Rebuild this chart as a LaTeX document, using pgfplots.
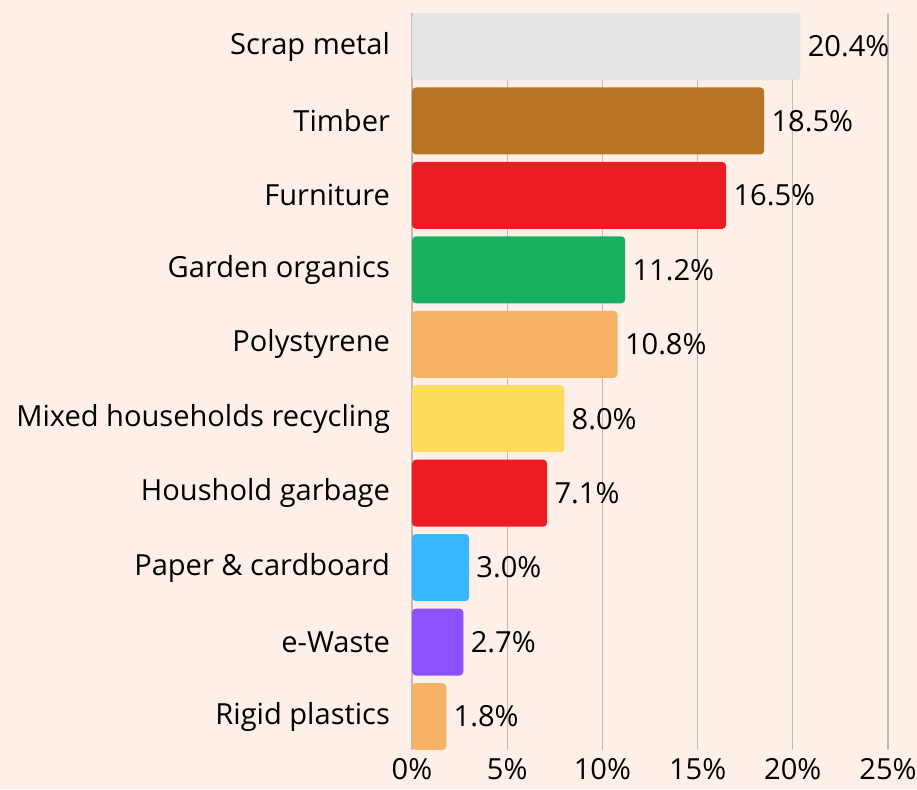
\documentclass[border=0pt]{standalone}
\usepackage{pgfplots}
\pgfplotsset{compat=1.18}
\usepackage{fontspec}
\setmainfont{Open Sans}
\definecolor{bg}{HTML}{FEEFE8}
\definecolor{gridc}{HTML}{C4BAB5}
\definecolor{c1}{HTML}{E6E6E6}
\definecolor{c2}{HTML}{B87422}
\definecolor{c3}{HTML}{EB1C24}
\definecolor{c4}{HTML}{18AF5F}
\definecolor{c5}{HTML}{F6B366}
\definecolor{c6}{HTML}{FFDD5C}
\definecolor{c7}{HTML}{EB1C24}
\definecolor{c8}{HTML}{38B6FF}
\definecolor{c9}{HTML}{8C52FF}
\definecolor{c10}{HTML}{F6B366}
\begin{document}
\begin{tikzpicture}
\path[use as bounding box, fill=bg] (-309pt,-29.25pt) rectangle (378.75pt,562.5pt);
\begin{axis}[
  scale only axis,
  width=357pt, height=552.75pt,
  xbar, bar shift=0pt, bar width=0.9,
  xmin=0, xmax=25,
  ymin=-0.45, ymax=9.45,
  y dir=reverse,
  ytick={0,...,9},
  yticklabels={Scrap metal,Timber,Furniture,Garden organics,Polystyrene,Mixed households recycling,Houshold garbage,Paper \& cardboard,e-Waste,Rigid plastics},
  xtick={0,5,10,15,20,25},
  xticklabel={\pgfmathprintnumber{\tick}\%},
  /pgf/number format/assume math mode=true,
  ticklabel style={font=\fontsize{21.8}{25}\selectfont, text=black},
  major tick length=0pt,
  tick style={draw=none},
  xmajorgrids, grid style={gridc, line width=0.8pt},
  axis line style={draw=none},
  every axis plot/.append style={draw=none, rounded corners=3pt},
  nodes near coords={\pgfmathprintnumber[fixed,fixed zerofill,precision=1]{\pgfplotspointmeta}\%},
  nodes near coords style={font=\fontsize{21.8}{25}\selectfont, text=black, anchor=west, xshift=2pt},
  clip=false,
  xticklabel style={yshift=-3pt},
  yticklabel style={xshift=-13pt},
]
\addplot[fill=c1] coordinates {(20.4,0)};
\addplot[fill=c2] coordinates {(18.5,1)};
\addplot[fill=c3] coordinates {(16.5,2)};
\addplot[fill=c4] coordinates {(11.2,3)};
\addplot[fill=c5] coordinates {(10.8,4)};
\addplot[fill=c6] coordinates {(8.0,5)};
\addplot[fill=c7] coordinates {(7.1,6)};
\addplot[fill=c8] coordinates {(3.0,7)};
\addplot[fill=c9] coordinates {(2.7,8)};
\addplot[fill=c10] coordinates {(1.8,9)};
\end{axis}
\end{tikzpicture}
\end{document}
